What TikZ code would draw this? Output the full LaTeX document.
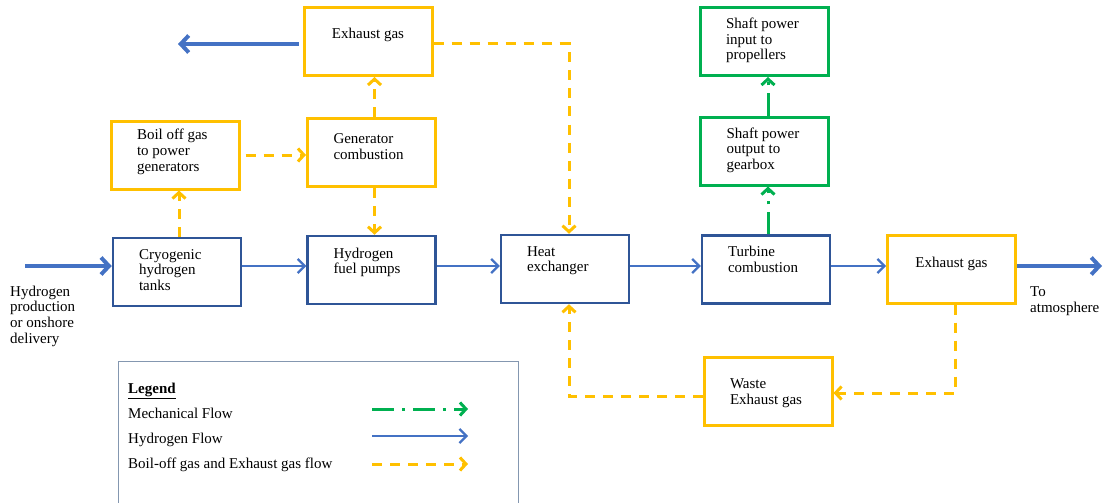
\documentclass[tikz,border=0pt]{standalone}
\usepackage{fontspec}
\setmainfont{Liberation Serif}
\usetikzlibrary{arrows.meta, positioning}

\definecolor{hblue}{HTML}{4472C4}
\definecolor{boxblue}{HTML}{2F5597}
\definecolor{gasyellow}{HTML}{FFC000}
\definecolor{mechgreen}{HTML}{00B050}
\definecolor{legendgray}{HTML}{8497B0}

% box texts: first baseline #1 below the top edge
\newcommand{\lefttext}[2][21pt]{\parbox[c][68pt][t]{128pt}{\leftskip=26pt\rule{0pt}{#1}#2}}
\newcommand{\midtext}[2][31pt]{\parbox[c][68pt][t]{128pt}{\centering\rule{0pt}{#1}#2}}

\begin{document}
\begin{tikzpicture}[
  x=1pt, y=-1pt,
  font=\fontsize{15}{15.7}\selectfont,
  bluebox/.style={draw=boxblue, line width=2.5pt, inner sep=0pt},
  gasbox/.style={draw=gasyellow, line width=3pt, inner sep=0pt},
  shaftbox/.style={draw=mechgreen, line width=3pt, inner sep=0pt},
  hflow/.style={draw=hblue, line width=2.2pt, -{Straight Barb[length=7pt, width=14pt]}},
  hflowthick/.style={draw=hblue, line width=4pt, -{Straight Barb[length=8pt, width=17pt]}},
  gasflow/.style={draw=gasyellow, line width=3pt, dash pattern=on 10pt off 8pt,
    -{Straight Barb[length=6pt, width=13pt]}},
  mechflow/.style={draw=mechgreen, line width=3pt, dash pattern=on 22pt off 8pt on 3pt off 8pt,
    -{Straight Barb[length=6pt, width=13pt]}}
]
\useasboundingbox (0,0) rectangle (1104,503);

% boxes
\node[gasbox] (exhtop) at (368,41.5) {\midtext{Exhaust gas}};
\node[gasbox] (boil) at (175,155) {\lefttext[19pt]{Boil off gas\\to power\\generators}};
\node[gasbox] (gen) at (371.5,152.5) {\lefttext[25pt]{Generator\\combustion}};
\node[bluebox] (cryo) at (177,272) {\lefttext{Cryogenic\\hydrogen\\tanks}};
\node[bluebox] (pumps) at (371.5,270) {\lefttext[22pt]{Hydrogen\\fuel pumps}};
\node[bluebox] (hx) at (565,269) {\lefttext{Heat\\exchanger}};
\node[bluebox] (turb) at (766,269.5) {\lefttext{Turbine\\combustion}};
\node[gasbox] (exhright) at (951.5,269) {\midtext[32pt]{Exhaust gas}};
\node[shaftbox] (shaftout) at (764.5,151) {\lefttext{Shaft power\\output to\\gearbox}};
\node[shaftbox] (shaftin) at (764,41.5) {\lefttext{Shaft power\\input to\\propellers}};
\node[gasbox] (waste) at (768,391.5) {\lefttext[31pt]{Waste\\Exhaust gas}};

% free texts
\node[anchor=north west, inner sep=0pt, align=left] (h2src) at (10,285.5)
  {Hydrogen\\production\\or onshore\\delivery};
\node[anchor=north west, inner sep=0pt, align=left] (atmo) at (1030,286.5)
  {To\\atmosphere};

% hydrogen flow
\coordinate (h2in) at (25,266);
\coordinate (h2out) at (1102,266);
\coordinate (exhout) at (178,44);
\draw[hflowthick] (h2in) -- (cryo.west |- h2in);
\draw[hflow] (cryo.east |- h2in) -- (pumps.west |- h2in);
\draw[hflow] (pumps.east |- h2in) -- (hx.west |- h2in);
\draw[hflow] (hx.east |- h2in) -- (turb.west |- h2in);
\draw[hflow] (turb.east |- h2in) -- (exhright.west |- h2in);
\draw[hflowthick] (exhright.east |- h2out) -- (h2out);
\draw[hflowthick] ([xshift=-4pt]exhtop.west |- exhout) -- (exhout);

% boil-off and exhaust gas flow
\draw[gasflow] ([xshift=2pt]cryo.north) -- ([xshift=2pt]cryo.north |- boil.south);
\draw[gasflow, shorten <=5pt] (boil.east) -- (gen.west |- boil.east);
\draw[gasflow] ([xshift=3pt]gen.north) -- ([xshift=3pt]gen.north |- exhtop.south);
\draw[gasflow] ([xshift=3pt]gen.south) -- ([xshift=3pt]gen.south |- pumps.north);
\draw[gasflow] (exhtop.east |- exhout) -| ([xshift=4pt]hx.north);
\draw[gasflow] ([xshift=3.5pt]exhright.south) |- ([yshift=-1.5pt]waste.east);
\draw[gasflow] ([yshift=-4.5pt]waste.west) -| ([xshift=4pt]hx.south);

% mechanical flow
\draw[mechflow] ([xshift=2pt]turb.north) -- ([xshift=2pt]turb.north |- shaftout.south);
\draw[mechflow] ([xshift=3.5pt]shaftout.north) -- ([xshift=3.5pt]shaftout.north |- shaftin.south);

% legend
\draw[legendgray, line width=1pt] (118,361) rectangle (518,512);
\node[anchor=base west, inner sep=0pt] (legendtitle) at (128,393) {\textbf{\underline{Legend}}};
\node[anchor=base west, inner sep=0pt] (mechtext) at (128,418) {Mechanical Flow};
\node[anchor=base west, inner sep=0pt] (h2text) at (128,443) {Hydrogen Flow};
\node[anchor=base west, inner sep=0pt] (gastext) at (128,468) {Boil-off gas and Exhaust gas flow};
\coordinate (mechA) at (372,409);
\coordinate (mechB) at (468,409);
\coordinate (h2A) at (372,436);
\coordinate (h2B) at (468,436);
\coordinate (gasA) at (372,464);
\coordinate (gasB) at (468,464);
\draw[mechflow] (mechA) -- (mechB);
\draw[hflow] (h2A) -- (h2B);
\draw[gasflow] (gasA) -- (gasB);

\end{tikzpicture}
\end{document}
